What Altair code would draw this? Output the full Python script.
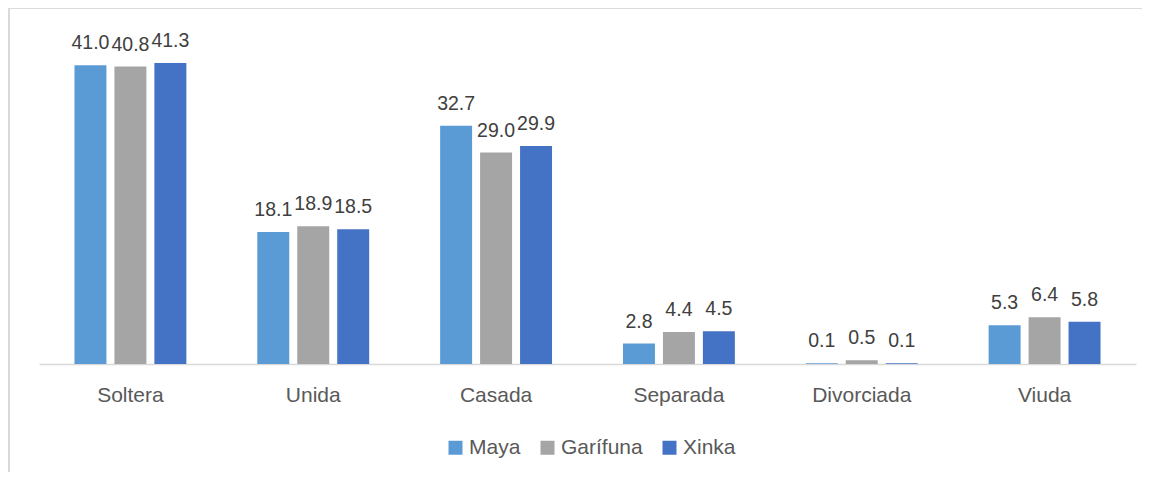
import altair as alt
import pandas as pd

categories = ["Soltera", "Unida", "Casada", "Separada", "Divorciada", "Viuda"]
series = ["Maya", "Garífuna", "Xinka"]
maya = [41.0, 18.1, 32.7, 2.8, 0.1, 5.3]
garifuna = [40.8, 18.9, 29.0, 4.4, 0.5, 6.4]
xinka = [41.3, 18.5, 29.9, 4.5, 0.1, 5.8]
colors = ["#5B9BD5", "#A5A5A5", "#4472C4"]

rows = []
for s, vals in zip(series, [maya, garifuna, xinka]):
    for c, v in zip(categories, vals):
        rows.append({"cat": c, "serie": s, "val": v})
df = pd.DataFrame(rows)

x = alt.X("cat:N", sort=categories, title=None,
          scale=alt.Scale(paddingInner=0.388, paddingOuter=0.194),
          axis=alt.Axis(labelAngle=0, ticks=False, domainColor="#D9D9D9", domainWidth=1.5,
                        labelFont="Liberation Sans", labelFontSize=21, labelColor="#595959",
                        labelPadding=20))
xo = alt.XOffset("serie:N", sort=series, scale=alt.Scale(paddingInner=0.2, paddingOuter=0))
y = alt.Y("val:Q", scale=alt.Scale(domain=[0, 45]), axis=None)
color = alt.Color("serie:N", sort=series, scale=alt.Scale(domain=series, range=colors),
                  legend=alt.Legend(title=None, orient="none", direction="horizontal",
                                    legendX=406, legendY=401, symbolType="square",
                                    symbolSize=196, symbolStrokeWidth=0, labelFont="Liberation Sans",
                                    labelFontSize=21, labelColor="#595959", labelOffset=3,
                                    columnPadding=16, padding=0))

bars = alt.Chart(df).mark_bar().encode(x=x, xOffset=xo, y=y, color=color)
labels = alt.Chart(df).mark_text(baseline="alphabetic", dy=-16, font="Liberation Sans",
                                 fontSize=19.5, color="#404040").encode(
    x=x, xOffset=xo, y=y, text=alt.Text("val:Q", format=".1f"))

border_left = alt.Chart(df).mark_rule(color="#D9D9D9", strokeWidth=1.5).encode(
    x=alt.value(-30), y=alt.value(-28.5), y2=alt.value(445))
border_top = alt.Chart(df).mark_rule(color="#D9D9D9", strokeWidth=1.5).encode(
    x=alt.value(-30), x2=alt.value(1103), y=alt.value(-28.5))

chart = alt.layer(bars, labels, border_left, border_top).properties(
    width=1097, height=328,
    autosize=alt.AutoSizeParams(type="none"),
    padding={"left": 31, "top": 28, "right": 6, "bottom": 108},
).configure_view(stroke=None)

chart.save("out.html", embed_options={"renderer": "svg", "actions": False})
